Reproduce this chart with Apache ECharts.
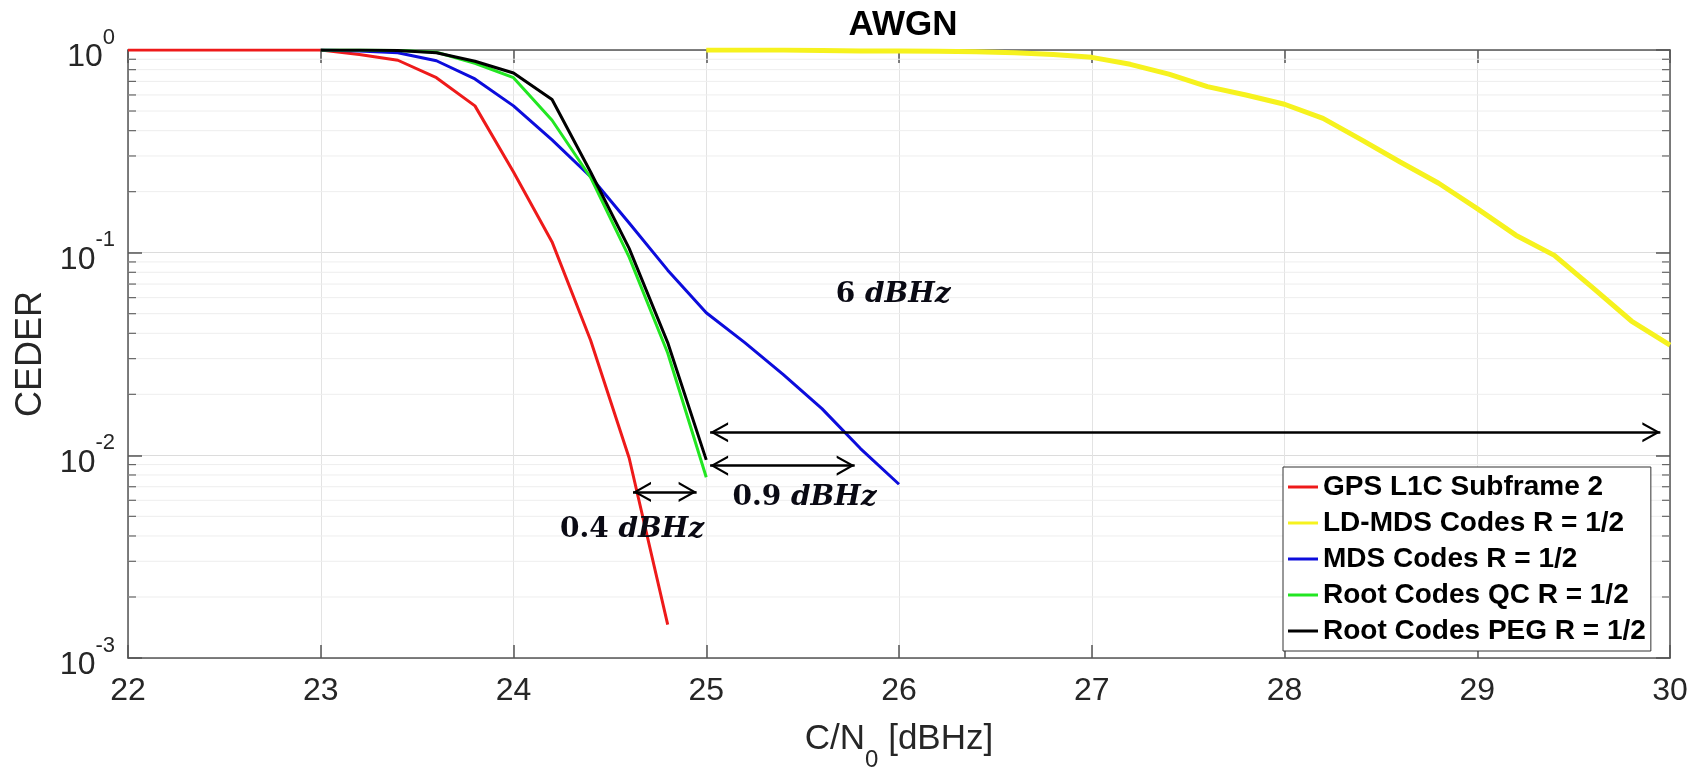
<!DOCTYPE html>
<html>
<head>
<meta charset="utf-8">
<script src="https://cdn.jsdelivr.net/npm/echarts@6/dist/echarts.min.js"></script>
<style>
html,body{margin:0;padding:0;background:#fff;}
#chart{width:1702px;height:770px;}
</style>
</head>
<body>
<div id="chart"></div>
<script>
// ---- data ----
const seriesNames = ['GPS L1C Subframe 2', 'LD-MDS Codes R = 1/2', 'MDS Codes R = 1/2', 'Root Codes QC R = 1/2', 'Root Codes PEG R = 1/2'];

const cnoRed   = [22, 22.2, 22.4, 22.6, 22.8, 23, 23.2, 23.4, 23.6, 23.8, 24, 24.2, 24.4, 24.6, 24.8];
const cederRed = [1, 1, 1, 1, 1, 1, 0.95, 0.89, 0.73, 0.53, 0.25, 0.113, 0.037, 0.0097, 0.00146];

const cnoYellow   = [25, 25.2, 25.4, 25.6, 25.8, 26, 26.2, 26.4, 26.6, 26.8, 27, 27.2, 27.4, 27.6, 27.8, 28, 28.2, 28.4, 28.6, 28.8, 29, 29.2, 29.4, 29.6, 29.8, 30];
const cederYellow = [1, 1, 1, 0.995, 0.99, 0.99, 0.985, 0.98, 0.97, 0.95, 0.92, 0.85, 0.76, 0.66, 0.6, 0.54, 0.46, 0.36, 0.28, 0.22, 0.165, 0.122, 0.097, 0.067, 0.046, 0.035];

const cnoBlue   = [23, 23.2, 23.4, 23.6, 23.8, 24, 24.2, 24.4, 24.6, 24.8, 25, 25.2, 25.4, 25.6, 25.8, 26];
const cederBlue = [1, 0.99, 0.97, 0.885, 0.72, 0.53, 0.36, 0.237, 0.14, 0.082, 0.0505, 0.036, 0.025, 0.017, 0.0108, 0.0072];

const cnoGreen   = [23, 23.2, 23.4, 23.6, 23.8, 24, 24.2, 24.4, 24.6, 24.8, 25];
const cederGreen = [1, 1, 0.995, 0.975, 0.86, 0.73, 0.45, 0.235, 0.095, 0.032, 0.0078];

const cnoBlack   = [23, 23.2, 23.4, 23.6, 23.8, 24, 24.2, 24.4, 24.6, 24.8, 25];
const cederBlack = [1, 1, 0.995, 0.97, 0.88, 0.77, 0.57, 0.25, 0.105, 0.036, 0.0095];

const xTicks = [22, 23, 24, 25, 26, 27, 28, 29, 30];
const yTicks = [0.001, 0.01, 0.1, 1];
const minorGrid = [0.002,0.003,0.004,0.005,0.006,0.007,0.008,0.009,
                   0.02,0.03,0.04,0.05,0.06,0.07,0.08,0.09,
                   0.2,0.3,0.4,0.5,0.6,0.7,0.8,0.9];

// annotation arrows: [x1, y1, x2, y2]
const arrows = [
  [25.02, 0.013, 29.95, 0.013],
  [25.02, 0.0089, 25.77, 0.0089],
  [24.62, 0.0066, 24.95, 0.0066]
];
// annotation texts: [x, y, number, unit]
const notes = [
  [25.97, 0.062, '6', 'dBHz'],
  [25.51, 0.0062, '0.9', 'dBHz'],
  [24.615, 0.0043, '0.4', 'dBHz']
];

const colors = ['#ee1a1a', '#f6f21e', '#0c0cdc', '#22e622', '#000000'];
const widths = [3, 5, 3, 3, 3];

function zip(xs, ys){ return xs.map((x, i) => [x, ys[i]]); }

const seriesData = [
  zip(cnoRed, cederRed),
  zip(cnoYellow, cederYellow),
  zip(cnoBlue, cederBlue),
  zip(cnoGreen, cederGreen),
  zip(cnoBlack, cederBlack)
];

const sansFont = "'Liberation Sans', Arial, Helvetica, sans-serif";
// open chevron whose tip sits at the centre of its square box (tip direction = box top)
const chevron = 'path://M22,100 L50,50 L78,100 L71,100 L50,62 L29,100 Z M0,0 L0.2,0 L0,0.2 Z M100,0 L99.8,0 L100,0.2 Z';

const chart = echarts.init(document.getElementById('chart'), null, {renderer: 'canvas'});

const lineSeries = seriesNames.map((name, i) => ({
  name: name,
  type: 'line',
  data: seriesData[i],
  symbol: 'none',
  showSymbol: false,
  lineStyle: {color: colors[i], width: widths[i]},
  itemStyle: {color: colors[i]},
  z: 3 + i,
  animation: false
}));

const option = {
  animation: false,
  backgroundColor: '#ffffff',
  title: {
    text: 'AWGN',
    left: 898,
    top: 3,
    textAlign: 'center',
    textStyle: {fontFamily: sansFont, fontWeight: 'bold', fontSize: 35, color: '#000'}
  },
  grid: {left: 128, right: 32, top: 50, bottom: 112, containLabel: false, outerBoundsMode: 'none'},
  legend: {
    data: seriesNames,
    orient: 'vertical',
    left: 1283,
    top: 467,
    padding: [4, 5, 4, 5],
    itemGap: 4,
    itemWidth: 30,
    itemHeight: 3,
    icon: 'rect',
    backgroundColor: '#ffffff',
    borderColor: '#333333',
    borderWidth: 1,
    borderRadius: 0,
    selectedMode: false,
    textStyle: {fontFamily: sansFont, fontWeight: 'bold', fontSize: 28, lineHeight: 32, color: '#000'}
  },
  xAxis: [{
    type: 'value',
    min: 22, max: 30, interval: 1,
    name: '{a|C/N}{sub|0}{a| [dBHz]}{h|\u200b}',
    nameLocation: 'middle',
    nameGap: 64,
    nameTextStyle: {
      color: '#262626',
      rich: {
        a: {fontFamily: sansFont, fontSize: 35, lineHeight: 36, verticalAlign: 'top', color: '#262626'},
        sub: {fontFamily: sansFont, fontSize: 24, lineHeight: 24, verticalAlign: 'bottom', color: '#262626'},
        h: {fontSize: 10, lineHeight: 50}
      }
    },
    axisLine: {show: true, onZero: false, lineStyle: {color: '#555', width: 1.5}},
    axisTick: {show: true, inside: true, length: 13, lineStyle: {color: '#555', width: 1.5}},
    axisLabel: {
      margin: 17, fontFamily: sansFont, fontSize: 32, color: '#262626',
      formatter: v => xTicks.indexOf(v) >= 0 ? String(v) : ''
    },
    splitLine: {show: true, lineStyle: {color: '#e3e3e3', width: 1}}
  }, {
    type: 'value',
    min: 22, max: 30, interval: 1,
    position: 'top',
    axisLine: {show: true, onZero: false, lineStyle: {color: '#555', width: 1.5}},
    axisTick: {show: true, inside: true, length: 13, lineStyle: {color: '#555', width: 1.5}},
    axisLabel: {show: false},
    splitLine: {show: false}
  }],
  yAxis: [{
    type: 'log',
    logBase: 10,
    min: 0.001, max: 1,
    name: 'CEDER',
    nameLocation: 'middle',
    nameGap: 78,
    nameTextStyle: {fontFamily: sansFont, fontSize: 36, color: '#262626'},
    axisLine: {show: true, onZero: false, lineStyle: {color: '#555', width: 1.5}},
    axisTick: {show: true, inside: true, length: 14, lineStyle: {color: '#555', width: 1.5}},
    axisLabel: {
      margin: 13,
      color: '#262626',
      formatter: v => {
        const e = Math.round(Math.log10(v));
        return '{h|\u200b}{b|10}{s|' + e + '}';
      },
      rich: {
        h: {fontSize: 10, lineHeight: 47},
        b: {fontFamily: sansFont, fontSize: 32, lineHeight: 32, verticalAlign: 'bottom', color: '#262626'},
        s: {fontFamily: sansFont, fontSize: 22, lineHeight: 32, verticalAlign: 'top', color: '#262626'}
      }
    },
    splitLine: {show: true, lineStyle: {color: '#dcdcdc', width: 1}}
  }, {
    type: 'log',
    logBase: 10,
    min: 0.001, max: 1,
    position: 'right',
    axisLine: {show: true, onZero: false, lineStyle: {color: '#555', width: 1.5}},
    axisTick: {show: true, inside: true, length: 14, lineStyle: {color: '#555', width: 1.5}},
    axisLabel: {show: false},
    splitLine: {show: false}
  }],
  series: [
    {
      name: 'minorGrid',
      type: 'custom',
      xAxisIndex: 0, yAxisIndex: 0,
      z: 1,
      silent: true,
      data: minorGrid.map(v => [22, v]),
      renderItem: function (params, api) {
        const v = api.value(1);
        const a = api.coord([22, v]);
        const b = api.coord([30, v]);
        return {
          type: 'group',
          children: [
            {type: 'line', shape: {x1: a[0], y1: a[1], x2: b[0], y2: b[1]}, style: {stroke: '#eeeeee', lineWidth: 1}},
            {type: 'line', shape: {x1: a[0], y1: a[1], x2: a[0] + 8, y2: a[1]}, style: {stroke: '#666', lineWidth: 1.2}},
            {type: 'line', shape: {x1: b[0] - 8, y1: b[1], x2: b[0], y2: b[1]}, style: {stroke: '#666', lineWidth: 1.2}}
          ]
        };
      }
    },
    ...lineSeries,
    {
      name: 'arrows',
      type: 'lines',
      coordinateSystem: 'cartesian2d',
      xAxisIndex: 0, yAxisIndex: 0,
      polyline: false,
      silent: true,
      z: 10,
      symbol: [chevron, chevron],
      symbolSize: 36,
      lineStyle: {color: '#000', width: 2.5, opacity: 1},
      itemStyle: {color: '#000'},
      data: arrows.map(a => ({coords: [[a[0], a[1]], [a[2], a[3]]]}))
    },
    {
      name: 'notes',
      type: 'scatter',
      xAxisIndex: 0, yAxisIndex: 0,
      silent: true,
      z: 11,
      symbol: 'circle',
      symbolSize: 1,
      itemStyle: {color: 'rgba(0,0,0,0)'},
      data: notes.map(n => ({value: [n[0], n[1]], num: n[2], unit: n[3]})),
      label: {
        show: true,
        position: 'inside',
        color: '#0a0a14',
        textBorderWidth: 0,
        opacity: 1,
        formatter: p => '{n|' + p.data.num + ' }{i|' + p.data.unit + '}',
        rich: {
          n: {fontFamily: "'DejaVu Serif', serif", fontWeight: 'bold', fontSize: 28, color: '#0a0a14', textBorderWidth: 0},
          i: {fontFamily: "'DejaVu Serif', serif", fontWeight: 'bold', fontStyle: 'italic', fontSize: 28, color: '#0a0a14', textBorderWidth: 0}
        }
      }
    }
  ]
};

chart.setOption(option);
</script>
</body>
</html>
